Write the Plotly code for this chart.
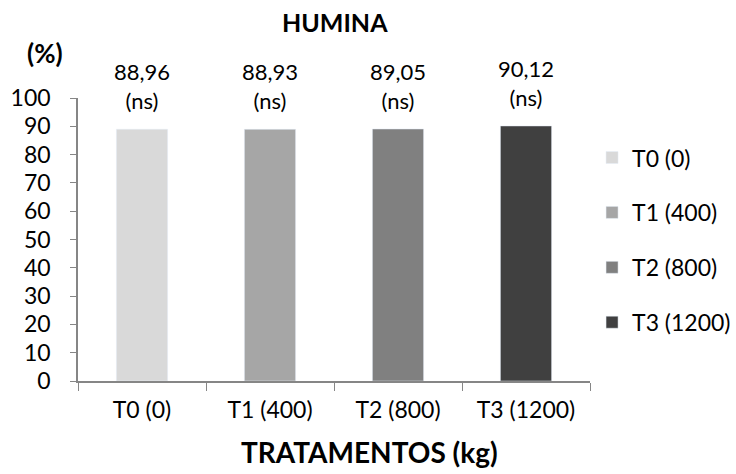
import plotly.graph_objects as go

categories = ["T0 (0)", "T1 (400)", "T2 (800)", "T3 (1200)"]
values = [88.96, 88.93, 89.05, 90.12]
value_labels = ["88,96", "88,93", "89,05", "90,12"]
signif = ["(ns)", "(ns)", "(ns)", "(ns)"]
colors = ["#d9d9d9", "#a6a6a6", "#808080", "#404040"]
y_ticks = list(range(0, 101, 10))

FONT = "Lato"
fig = go.Figure()
for i, c in enumerate(categories):
    fig.add_trace(go.Bar(
        x=[c], y=[values[i]], name=c, marker_color=colors[i],
        width=0.4, legendgroup=c, showlegend=True,
    ))

annotations = []
for i, c in enumerate(categories):
    annotations.append(dict(
        x=c, y=values[i], xref="x", yref="y", text=f"{value_labels[i]}<br>{signif[i]}",
        showarrow=False, yanchor="bottom", yshift=13,
        font=dict(family=FONT, size=22, color="#000000"),
    ))

annotations += [
    dict(x=0.502, y=1.2686, xref="paper", yref="paper", text="<b>HUMINA</b>",
         showarrow=False, xanchor="center", yanchor="middle",
         font=dict(family=FONT, size=25, color="#000000")),
    dict(x=-0.0645, y=1.159, xref="paper", yref="paper", text="<b>(%)</b>",
         showarrow=False, xanchor="center", yanchor="middle",
         font=dict(family=FONT, size=26, color="#000000")),
    dict(x=0.570, y=-0.251, xref="paper", yref="paper", text="<b>TRATAMENTOS (kg)</b>",
         showarrow=False, xanchor="center", yanchor="middle",
         font=dict(family=FONT, size=28, color="#000000")),
]

fig.update_layout(
    width=736, height=474,
    margin=dict(l=78, r=146, t=98, b=93, autoexpand=False),
    paper_bgcolor="white", plot_bgcolor="white",
    barmode="overlay",
    showlegend=True,
    legend=dict(x=1.004, y=0.498, xanchor="left", yanchor="middle",
                font=dict(family=FONT, size=23, color="#000000"),
                tracegroupgap=22, traceorder="grouped",
                bgcolor="rgba(0,0,0,0)"),
    annotations=annotations,
    font=dict(family=FONT, color="#000000"),
)
fig.update_xaxes(
    type="category", categoryorder="array", categoryarray=categories,
    showline=True, linecolor="#868686", linewidth=1.5,
    ticks="outside", tickson="boundaries", ticklen=8, tickcolor="#868686",
    tickfont=dict(family=FONT, size=23, color="#000000"),
    ticklabelstandoff=8, showgrid=False, zeroline=False, automargin=False,
)
fig.update_yaxes(
    range=[0, 100], tickvals=y_ticks, ticktext=[str(v) for v in y_ticks],
    showline=True, linecolor="#868686", linewidth=1.5,
    ticks="outside", ticklen=6, tickcolor="#868686",
    tickfont=dict(family=FONT, size=23, color="#000000"),
    ticklabelstandoff=15, showgrid=False, zeroline=False, automargin=False,
)

fig.write_html("out.html", config={"displayModeBar": False},
               post_script="document.body.style.margin='0px';document.body.style.overflow='hidden';")
